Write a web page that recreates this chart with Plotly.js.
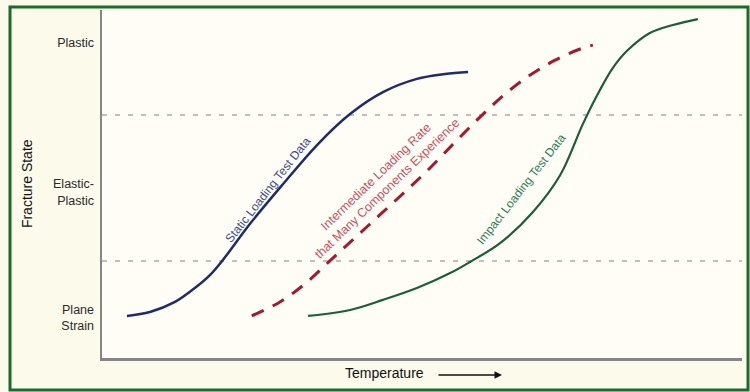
<!DOCTYPE html>
<html>
<head>
<meta charset="utf-8">
<script src="https://cdn.plot.ly/plotly-3.0.1.min.js"></script>
<style>html,body{margin:0;padding:0;background:#fcfaeb;}#chart{width:750px;height:392px;}</style>
</head>
<body>
<div id="chart"></div>
<script>
// Fracture state vs temperature (qualitative units 0-100)
var staticX = [3.9, 7.5, 11.4, 14.5, 16.9, 18.9, 23.1, 28.3, 33.6, 38.75, 43.9, 49.2, 53.6, 57.2];
var staticY = [12.1, 13.2, 16.1, 20.1, 23.9, 28.2, 38.5, 50.0, 61.2, 70.1, 76.4, 80.2, 81.6, 82.2];

var interX = [23.4, 27.8, 31.7, 35.6, 39.5, 43.4, 47.3, 51.25, 55.2, 59.1, 63.0, 66.9, 70.8, 74.7, 76.7];
var interY = [12.1, 16.1, 21.3, 27.9, 34.5, 41.1, 47.7, 54.6, 62.1, 69.3, 75.9, 81.3, 85.6, 88.8, 89.9];

var impactX = [32.2, 38.75, 43.9, 49.2, 54.4, 57.5, 62.2, 67.3, 71.6, 75.2, 77.8, 79.8, 82.0, 85.6, 89.2, 93.1];
var impactY = [12.1, 13.8, 16.7, 20.1, 24.4, 27.6, 33.0, 41.9, 52.6, 67.5, 77.0, 83.3, 88.2, 93.4, 95.7, 97.4];

var stateTickVals = [11.5, 47.7, 90.5];
var stateTickText = ["Plane<br>Strain", "Elastic-<br>Plastic", "Plastic"];
var boundaryLevels = [27.9, 69.8];

var seriesLabels = ["Static Loading Test Data", "Intermediate Loading Rate<br>that Many Components Experience", "Impact Loading Test Data"];
var xTitle = "Temperature";
var yTitle = "Fracture State";

var traces = [
  {x: staticX, y: staticY, mode: 'lines', line: {color: '#1f2b6e', width: 2.5, shape: 'spline'}, hoverinfo: 'skip'},
  {x: interX, y: interY, mode: 'lines', line: {color: '#a3192e', width: 3, shape: 'spline', dash: '13px,10px'}, hoverinfo: 'skip'},
  {x: impactX, y: impactY, mode: 'lines', line: {color: '#1b5e38', width: 2.2, shape: 'spline'}, hoverinfo: 'skip'}
];

var shapes = [
  {type: 'rect', xref: 'paper', yref: 'paper', x0: -0.14375, x1: 1.009375, y0: -0.09195, y1: 1.00862,
   line: {color: '#1b6b2c', width: 3}, fillcolor: 'rgba(0,0,0,0)', layer: 'above'}
];
boundaryLevels.forEach(function (v) {
  shapes.push({type: 'line', xref: 'paper', yref: 'y', x0: 0, x1: 1, y0: v, y1: v,
    line: {color: '#aaaaaa', width: 1.5, dash: '5px,8px'}, layer: 'below'});
});

var layout = {
  width: 750, height: 392,
  margin: {l: 102, r: 8, t: 10, b: 34},
  paper_bgcolor: '#fcfaeb',
  plot_bgcolor: '#fffdf6',
  showlegend: false,
  font: {family: 'Liberation Sans, Arial, sans-serif', color: '#333'},
  xaxis: {range: [0, 100], showgrid: false, zeroline: false, showticklabels: false, ticks: '',
    showline: true, linecolor: '#858585', linewidth: 2.5, fixedrange: true},
  yaxis: {range: [0, 100], showgrid: false, zeroline: false, ticks: '',
    tickvals: stateTickVals, ticktext: stateTickText,
    tickfont: {size: 12.5, color: '#2a2a2a'}, ticklabelstandoff: 3,
    showline: true, linecolor: '#858585', linewidth: 2.5, fixedrange: true},
  shapes: shapes,
  annotations: [
    {x: 25.9, y: 48.3, xref: 'x', yref: 'y', text: seriesLabels[0], showarrow: false, textangle: -52,
     font: {size: 12, color: '#3b4a8c'}},
    {x: 43.6, y: 50.3, xref: 'x', yref: 'y', text: seriesLabels[1], showarrow: false, textangle: -44,
     font: {size: 12.5, color: '#c9505f'}},
    {x: 65.5, y: 48.6, xref: 'x', yref: 'y', text: seriesLabels[2], showarrow: false, textangle: -52,
     font: {size: 12, color: '#2f7a56'}},
    {x: -0.117, y: 0.5, xref: 'paper', yref: 'paper', xanchor: 'center', yanchor: 'middle',
     text: yTitle, showarrow: false, textangle: -90, font: {size: 14, color: '#111'}},
    {x: 0.442, y: -0.043, xref: 'paper', yref: 'paper', xanchor: 'center', yanchor: 'middle',
     text: xTitle, showarrow: false, font: {size: 14, color: '#111'}},
    {x: 0.625, y: -0.0489, xref: 'paper', yref: 'paper', text: '', showarrow: true,
     ax: -65, ay: 0, arrowhead: 2, arrowsize: 1, arrowwidth: 1.5, arrowcolor: '#111'}
  ]
};

Plotly.newPlot('chart', traces, layout, {staticPlot: true, displayModeBar: false});
</script>
</body>
</html>
